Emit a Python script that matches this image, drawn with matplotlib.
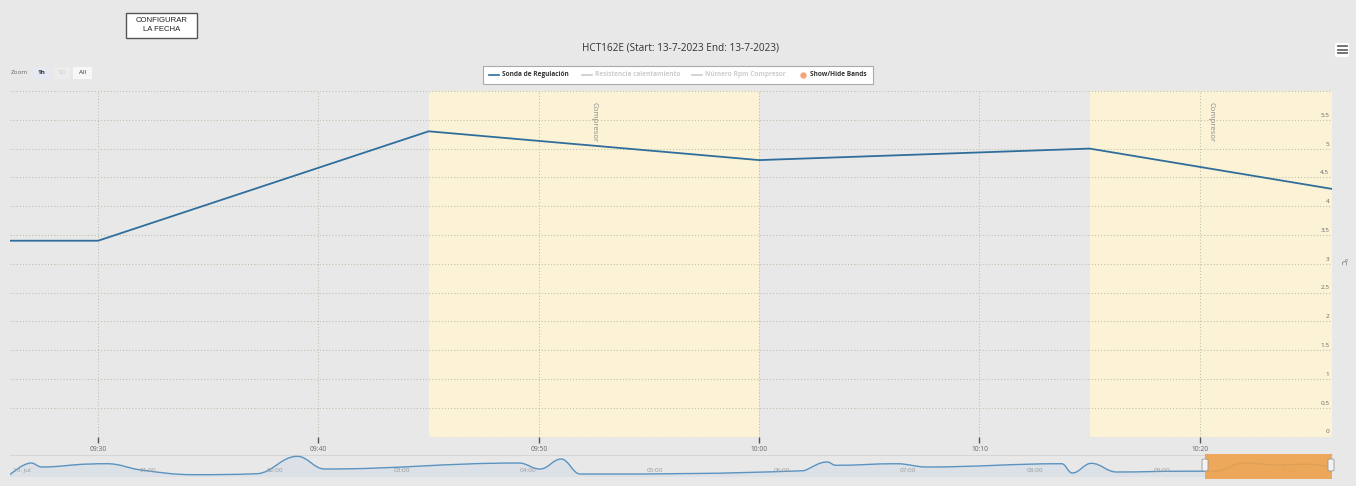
import matplotlib
matplotlib.use("Agg")
import matplotlib.pyplot as plt
from matplotlib.path import Path
from matplotlib.patches import PathPatch, Rectangle, FancyBboxPatch
from matplotlib.lines import Line2D
from matplotlib.transforms import blended_transform_factory

# Sonda de Regulación, 13-7-2023 (hora, ºC)
times = ["00:00", "00:10", "00:15", "00:38", "00:46", "01:02", "01:27", "01:57",
         "02:16", "02:29", "04:01", "04:11", "04:21", "04:30", "06:16", "06:27",
         "06:31", "07:00", "07:14", "08:18", "08:23", "08:32", "08:44", "09:15",
         "09:30", "09:45", "10:00", "10:15", "10:26"]
temps = [2.61, 5.27, 4.36, 5.04, 5.11, 3.68, 2.61, 2.83,
         6.80, 3.90, 5.27, 3.90, 6.18, 2.76, 3.52, 5.50,
         4.75, 5.11, 4.36, 5.11, 2.99, 5.20, 3.22, 3.40,
         3.40, 5.30, 4.80, 5.00, 4.30]

# bandas "Compresor"
band_start = ["09:45", "10:15"]
band_end = ["10:00", "10:30"]
band_label = "Compresor"

xticks = ["09:30", "09:40", "09:50", "10:00", "10:10", "10:20"]
yticks = [0, 0.5, 1, 1.5, 2, 2.5, 3, 3.5, 4, 4.5, 5, 5.5]
nav_ticks = ["00:00", "01:00", "02:00", "03:00", "04:00", "05:00",
             "06:00", "07:00", "08:00", "09:00", "10:00"]
nav_labels = ["13. jul", "01:00", "02:00", "03:00", "04:00", "05:00",
              "06:00", "07:00", "08:00", "09:00", "10:00"]


def hours(s):
    h, m = s.split(":")
    return int(h) + int(m) / 60.0


def spline_path(xs, ys, smooth=1.5):
    # bezier control points, highcharts-style spline
    n = len(xs)
    lc = [None] * n
    rc = [None] * n
    for i in range(n):
        x, y = xs[i], ys[i]
        if i == 0 or i == n - 1:
            lc[i] = rc[i] = (x, y)
            continue
        lx, ly = xs[i - 1], ys[i - 1]
        nx, ny = xs[i + 1], ys[i + 1]
        d = smooth + 1
        lcx, lcy = (smooth * x + lx) / d, (smooth * y + ly) / d
        rcx, rcy = (smooth * x + nx) / d, (smooth * y + ny) / d
        corr = (rcy - lcy) * (rcx - x) / (rcx - lcx) + y - rcy
        lcy += corr
        rcy += corr
        if lcy > ly and lcy > y:
            lcy = max(ly, y); rcy = 2 * y - lcy
        elif lcy < ly and lcy < y:
            lcy = min(ly, y); rcy = 2 * y - lcy
        if rcy > ny and rcy > y:
            rcy = max(ny, y); lcy = 2 * y - rcy
        elif rcy < ny and rcy < y:
            rcy = min(ny, y); lcy = 2 * y - rcy
        lc[i] = (lcx, lcy)
        rc[i] = (rcx, rcy)
    verts = [(xs[0], ys[0])]
    codes = [Path.MOVETO]
    for i in range(1, n):
        verts += [rc[i - 1], lc[i], (xs[i], ys[i])]
        codes += [Path.CURVE4] * 3
    return verts, codes


x = [hours(t) for t in times]
x_end = x[-1]
x_start = x_end - 1.0

W, H = 1356, 486
BG = "#e8e8e8"
BAND = "#fcf2d6"
GRID = "#b9c2aa"
LINE = "#2f6e9c"
TXT = "#666666"

fig = plt.figure(figsize=(W / 100, H / 100), dpi=100, facecolor=BG)
plt.rcParams["font.family"] = ["Open Sans", "DejaVu Sans"]


def fx(px):
    return px / W


def fy(py):
    return 1 - py / H


# ---- main chart
ax = fig.add_axes([fx(10), fy(436.5), fx(1322), 345.5 / H])
ax.set_facecolor(BG)
for s in ax.spines.values():
    s.set_visible(False)
ax.set_xlim(x_start, x_end)
ax.set_ylim(0, 6)

tr = blended_transform_factory(ax.transData, ax.transAxes)
for b0, b1 in zip(band_start, band_end):
    ax.axvspan(hours(b0), hours(b1), color=BAND, lw=0, zorder=0)
    vis0 = max(hours(b0), x_start)
    vis1 = min(hours(b1), x_end)
    ax.text((vis0 + vis1) / 2, 0.967, band_label, transform=tr, rotation=270,
            ha="center", va="top", fontsize=5.6, color="#8a8a8a", zorder=3)

for v in yticks + [6]:
    ax.axhline(v, color=GRID, lw=0.75, ls=(0, (1, 2)), zorder=1)
for t in xticks:
    ax.axvline(hours(t), color=GRID, lw=0.75, ls=(0, (1, 2)), zorder=1)

ax.plot(x, temps, color=LINE, lw=1.3, zorder=4, solid_joinstyle="miter", clip_on=True)

ax.set_xticks([hours(t) for t in xticks])
ax.set_xticklabels(xticks)
ax.tick_params(axis="x", length=4.5, width=1, color="#555555", labelsize=4.8,
               labelcolor=TXT, pad=2)
ax.set_yticks([])
for v in yticks:
    ax.annotate(f"{v:g}", (1, v), xycoords=("axes fraction", "data"),
                xytext=(-2, 1.5), textcoords="offset points", ha="right",
                va="bottom", fontsize=4.6, color=TXT)
fig.text(fx(1342), fy(262), "ºC", rotation=270, ha="center", va="center",
         fontsize=5.5, color=TXT)

# ---- navigator
nav = fig.add_axes([fx(10), fy(477), fx(1322), 22 / H])
nav.set_facecolor(BG)
for s in nav.spines.values():
    s.set_visible(False)
nav.set_xlim(x[0], x_end)
nav.set_ylim(2.08, 7.10)
nav.set_xticks([])
nav.set_yticks([])
verts, codes = spline_path(x, temps)
fill_verts = verts + [(x[-1], 2.08), (x[0], 2.08), verts[0]]
fill_codes = codes + [Path.LINETO, Path.LINETO, Path.CLOSEPOLY]
nav.add_patch(PathPatch(Path(fill_verts, fill_codes), facecolor="#dbe1e7",
                        edgecolor="none", zorder=1))
nav.add_patch(PathPatch(Path(verts, codes), facecolor="none", edgecolor="#5b93c0",
                        lw=1.0, zorder=2))
nav.axhline(7.10, color="#d6d6d6", lw=0.8, zorder=0, clip_on=False)
for t, lab in zip(nav_ticks, nav_labels):
    nav.annotate(lab, (hours(t), 0.28), xycoords=("data", "axes fraction"),
                 xytext=(2.2, 0), textcoords="offset points", ha="left",
                 va="center", fontsize=4.6, color="#9a9a9a", zorder=3)
nav.axvspan(x_start, x_end, ymin=-0.08, ymax=1.04, color="#eea14c", alpha=0.9,
            lw=0, zorder=4, clip_on=False)
# selection handles
for hpx in (1205, 1331):
    fig.patches.append(FancyBboxPatch((fx(hpx - 3), fy(471)), fx(6), 12 / H,
                                      boxstyle="round,pad=0,rounding_size=0.002",
                                      transform=fig.transFigure, facecolor="#f2f2f2",
                                      edgecolor="#999999", lw=0.6, zorder=5))

# ---- title and controls
fig.text(fx(680), fy(48), "HCT162E (Start: 13-7-2023 End: 13-7-2023)",
         ha="center", va="center", fontsize=7.2, color="#333333")

fig.patches.append(Rectangle((fx(126), fy(38)), fx(71), 25 / H, transform=fig.transFigure,
                             facecolor="white", edgecolor="#555555", lw=1.0))
fig.text(fx(161.5), fy(20), "CONFIGURAR", ha="center", va="center", fontsize=5.6,
         color="#222222", family=["Liberation Sans", "DejaVu Sans"])
fig.text(fx(161.5), fy(29.5), "LA FECHA", ha="center", va="center", fontsize=5.6,
         color="#222222", family=["Liberation Sans", "DejaVu Sans"])

fig.text(fx(11), fy(73), "Zoom", ha="left", va="center", fontsize=4.6, color=TXT)
for x0, w, lab, bg, col, wt in [(34, 16, "1h", "#e4e9f3", "#333333", "bold"),
                                (54, 16, "1D", "#ececec", "#c8c8c8", "normal"),
                                (73, 19, "All", "#f7f7f7", "#333333", "normal")]:
    fig.patches.append(Rectangle((fx(x0), fy(79)), fx(w), 12 / H, transform=fig.transFigure,
                                 facecolor=bg, edgecolor="none"))
    fig.text(fx(x0 + w / 2), fy(73), lab, ha="center", va="center", fontsize=4.6,
             color=col, weight=wt)

# legend box
fig.patches.append(Rectangle((fx(483), fy(84)), fx(390), 18 / H, transform=fig.transFigure,
                             facecolor="white", edgecolor="#aaaaaa", lw=0.8))
leg_y = fy(75)
for x0, lab, col, tcol in [(489, "Sonda de Regulación", LINE, "#333333"),
                           (582, "Resistencia calentamiento", "#cccccc", "#cccccc"),
                           (692, "Número Rpm Compresor", "#cccccc", "#cccccc")]:
    fig.lines.append(Line2D([fx(x0), fx(x0 + 10)], [leg_y, leg_y], transform=fig.transFigure,
                            color=col, lw=1.2))
    fig.text(fx(x0 + 13), leg_y, lab, ha="left", va="center", fontsize=4.7,
             color=tcol, weight="bold")
fig.lines.append(Line2D([fx(803)], [leg_y], transform=fig.transFigure, marker="o",
                        markersize=4.6, markerfacecolor="#f3a37a",
                        markeredgecolor="none", linestyle="none"))
fig.text(fx(810), leg_y, "Show/Hide Bands", ha="left", va="center", fontsize=4.7,
         color="#333333", weight="bold")

# export menu icon
fig.patches.append(FancyBboxPatch((fx(1335), fy(57)), fx(14), 14 / H,
                                  boxstyle="round,pad=0,rounding_size=0.002",
                                  transform=fig.transFigure, facecolor="white",
                                  edgecolor="none"))
for yy in (46.5, 50, 53.5):
    fig.lines.append(Line2D([fx(1337.5), fx(1346.5)], [fy(yy), fy(yy)],
                            transform=fig.transFigure, color="#666666", lw=1.3))

fig.savefig("out.png", dpi=100, facecolor=BG)
